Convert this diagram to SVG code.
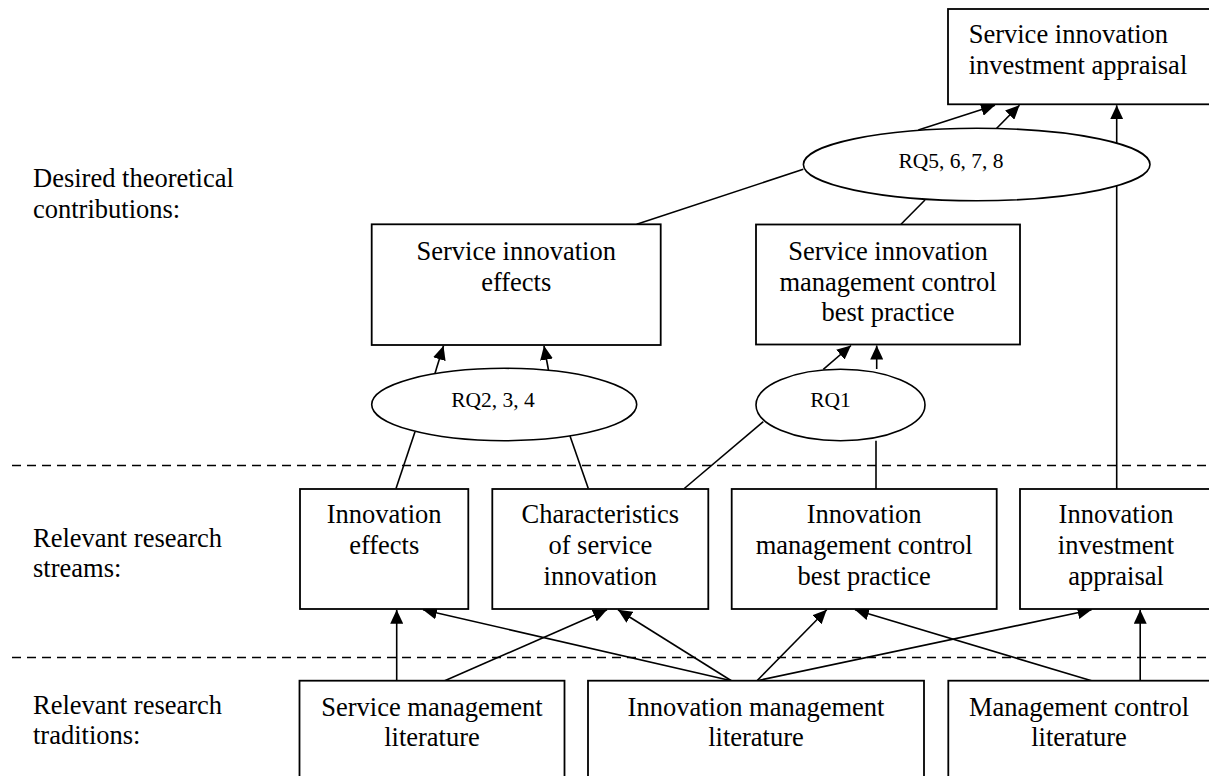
<svg xmlns="http://www.w3.org/2000/svg" width="1209" height="776" viewBox="0 0 1209 776">
<style>
.box{fill:#fff;stroke:#000;stroke-width:1.8}
.ell{fill:#fff;stroke:#000;stroke-width:1.6}
.t{font-family:"Liberation Serif","Times New Roman",serif;font-size:26.5px;fill:#000}
.m{text-anchor:middle}
.rq{font-family:"Liberation Serif","Times New Roman",serif;font-size:21.5px;fill:#000;text-anchor:middle}
.ln{stroke:#000;stroke-width:1.6;fill:none}
.ar{stroke:#000;stroke-width:1.6;fill:none;marker-end:url(#ah)}
.dash{stroke:#000;stroke-width:1.5;stroke-dasharray:9 6;fill:none}
</style>
<defs>
<marker id="ah" markerUnits="userSpaceOnUse" markerWidth="15" markerHeight="13" refX="14" refY="6.5" orient="auto">
<path d="M0,0 L14,6.5 L0,13 z" fill="#000"/>
</marker>
</defs>
<rect width="1209" height="776" fill="#fff"/>
<g id="labels">
<text class="t" x="33" y="187">Desired theoretical</text>
<text class="t" x="33" y="218">contributions:</text>
<text class="t" x="33" y="547">Relevant research</text>
<text class="t" x="33" y="577">streams:</text>
<text class="t" x="33" y="714">Relevant research</text>
<text class="t" x="33" y="744">traditions:</text>
</g>
<g id="separators">
<line class="dash" x1="12" y1="465.5" x2="1209" y2="465.5"/>
<line class="dash" x1="12" y1="657.5" x2="1209" y2="657.5"/>
</g>
<g id="connectors">
<line class="ln" x1="636.7" y1="224.3" x2="803.3" y2="169.3"/>
<line class="ln" x1="901" y1="224.3" x2="925" y2="200"/>
<line class="ln" x1="396" y1="488.5" x2="415" y2="431.7"/>
<line class="ln" x1="588.3" y1="488.5" x2="570" y2="436"/>
<line class="ln" x1="684.3" y1="488.5" x2="763.3" y2="421.7"/>
<line class="ln" x1="876" y1="489" x2="876" y2="440.7"/>
<line class="ar" x1="918.3" y1="130" x2="995" y2="105.2"/>
<line class="ar" x1="996" y1="129" x2="1019.5" y2="105.2"/>
<line class="ar" x1="1116.7" y1="489" x2="1116.7" y2="105.2"/>
<line class="ar" x1="435" y1="373.3" x2="443.5" y2="345.8"/>
<line class="ar" x1="549" y1="373" x2="544" y2="345.8"/>
<line class="ar" x1="823.3" y1="369.3" x2="851" y2="345.5"/>
<line class="ar" x1="876.7" y1="369" x2="876.7" y2="345.5"/>
<line class="ar" x1="396.7" y1="680.7" x2="396.7" y2="609.8"/>
<line class="ar" x1="444.7" y1="680.7" x2="607" y2="609.8"/>
<line class="ar" x1="731.4" y1="680.7" x2="423" y2="609.8"/>
<line class="ar" x1="731.4" y1="680.7" x2="618" y2="609.8"/>
<line class="ar" x1="757" y1="680.7" x2="826.7" y2="609.8"/>
<line class="ar" x1="757" y1="680.7" x2="1091.6" y2="609.8"/>
<line class="ar" x1="1091.6" y1="680.7" x2="855" y2="609.8"/>
<line class="ar" x1="1140.2" y1="680.7" x2="1140.2" y2="609.8"/>
</g>
<g id="n-siia">
<rect class="box" x="948" y="9" width="266" height="95.3"/>
<text class="t" x="968.7" y="43.3">Service innovation</text>
<text class="t" x="968.7" y="74">investment appraisal</text>
</g>
<g id="n-rq5">
<ellipse class="ell" cx="976.7" cy="164.5" rx="173.3" ry="36.2"/>
<text class="rq" x="951" y="167.7">RQ5, 6, 7, 8</text>
</g>
<g id="n-sie">
<rect class="box" x="371.7" y="224.3" width="289" height="120.7"/>
<text class="t m" x="516.2" y="260">Service innovation</text>
<text class="t m" x="516.2" y="290.7">effects</text>
</g>
<g id="n-simcbp">
<rect class="box" x="756" y="224.5" width="264" height="120"/>
<text class="t m" x="888" y="260">Service innovation</text>
<text class="t m" x="888" y="290.5">management control</text>
<text class="t m" x="888" y="321">best practice</text>
</g>
<g id="n-rq234">
<ellipse class="ell" cx="504.2" cy="404.5" rx="132.5" ry="36.2"/>
<text class="rq" x="493" y="407.3">RQ2, 3, 4</text>
</g>
<g id="n-rq1">
<ellipse class="ell" cx="840.5" cy="405" rx="84.5" ry="35.7"/>
<text class="rq" x="830.5" y="406.7">RQ1</text>
</g>
<g id="n-ie">
<rect class="box" x="300" y="489" width="168.3" height="120"/>
<text class="t m" x="384.2" y="523.3">Innovation</text>
<text class="t m" x="384.2" y="554">effects</text>
</g>
<g id="n-csi">
<rect class="box" x="492.3" y="489" width="216" height="120"/>
<text class="t m" x="600.3" y="523.3">Characteristics</text>
<text class="t m" x="600.3" y="554">of service</text>
<text class="t m" x="600.3" y="584.7">innovation</text>
</g>
<g id="n-imcbp">
<rect class="box" x="731.7" y="489" width="265" height="120"/>
<text class="t m" x="864.2" y="523.3">Innovation</text>
<text class="t m" x="864.2" y="554">management control</text>
<text class="t m" x="864.2" y="584.7">best practice</text>
</g>
<g id="n-iia">
<rect class="box" x="1020" y="489" width="194" height="120"/>
<text class="t m" x="1116" y="523.3">Innovation</text>
<text class="t m" x="1116" y="554">investment</text>
<text class="t m" x="1116" y="584.7">appraisal</text>
</g>
<g id="n-sml">
<rect class="box" x="299.5" y="680.7" width="265" height="110"/>
<text class="t m" x="432" y="715.5">Service management</text>
<text class="t m" x="432" y="746">literature</text>
</g>
<g id="n-iml">
<rect class="box" x="588" y="680.7" width="336" height="110"/>
<text class="t m" x="756" y="715.5">Innovation management</text>
<text class="t m" x="756" y="746">literature</text>
</g>
<g id="n-mcl">
<rect class="box" x="948.3" y="680.7" width="266" height="110"/>
<text class="t m" x="1079" y="715.5">Management control</text>
<text class="t m" x="1079" y="746">literature</text>
</g>
</svg>
